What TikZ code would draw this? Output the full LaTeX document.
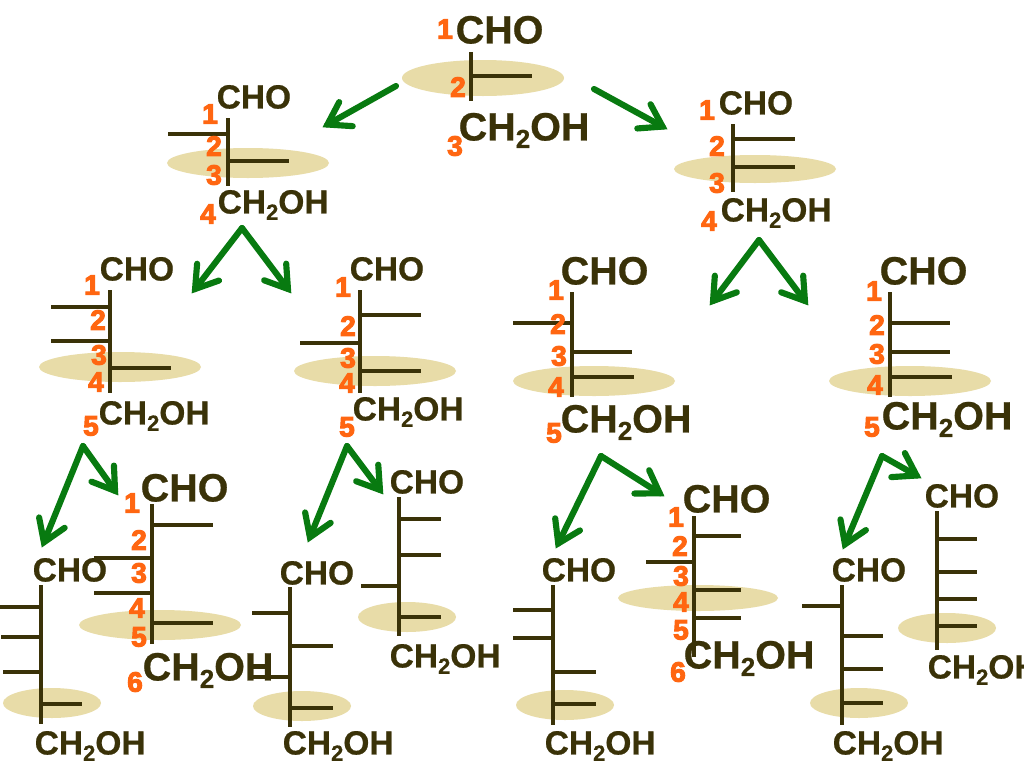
\documentclass[tikz,border=0pt]{standalone}
\usepackage{fontspec}
\setmainfont[BoldFeatures={FakeBold=0.6}]{Liberation Sans}
\newfontfamily\numfont[BoldFeatures={FakeBold=3.6}]{Liberation Sans}
\usetikzlibrary{calc}
\definecolor{olive}{HTML}{3A3208}
\definecolor{sand}{HTML}{E8DCA8}
\definecolor{numor}{HTML}{FF6611}
\definecolor{arrowgreen}{HTML}{087A10}
\tikzset{
  formula/.style={inner sep=0pt,anchor=base west,text=olive,xshift=-0.4pt,yshift=0.4pt},
  bigf/.style={formula,font=\fontsize{29.6}{32}\selectfont\bfseries},
  smallf/.style={formula,font=\fontsize{25.1}{28}\selectfont\bfseries},
  numlabel/.style={inner sep=0pt,anchor=center,text=numor,font=\fontsize{21}{24}\selectfont\numfont\bfseries},
  bond/.style={draw=olive,line width=3.2pt},
  halo/.style={fill=sand,draw=none},
  flow/.style={draw=arrowgreen,line width=4.6pt,line cap=round,line join=miter,miter limit=10}
}
\newcommand{\chotwo}{CH\raisebox{-.19em}{\scalebox{.66}{2}}OH}
\newcommand{\halobox}[5]{\fill[halo] (#2,#3) ellipse [x radius=#4,y radius=#5];}
\newcommand{\stem}[3]{\draw[bond] (#1,#2) -- (#1,#3);}
\newcommand{\arm}[3]{\draw[bond] (#1,#3) -- (#2,#3);}
\newcommand{\nm}[4]{\node[numlabel] (#1) at (#2,#3) {#4};}
\newcommand{\flowarrow}[2]{%
  \coordinate (tipc) at ($(#2)!3.8pt!(#1)$);
  \draw[flow] (#1) -- (tipc);
  \draw[flow] ($(tipc)!19pt!33:(#1)$) -- (tipc) -- ($(tipc)!19pt!-33:(#1)$);}
\begin{document}
\begin{tikzpicture}[x=0.75pt,y=-0.75pt]
\useasboundingbox (0,0) rectangle (1024,768);
\fill[white] (0,0) rectangle (1024,768);
% halos
\halobox{}{483}{78}{81}{18}
\halobox{}{248}{163}{81}{15}
\halobox{}{755}{169}{81}{14}
\halobox{}{120}{367}{81}{15}
\halobox{}{375}{371}{81}{15}
\halobox{}{594}{381}{81}{15}
\halobox{}{910}{381}{81}{15}
\halobox{}{52}{703}{49}{15}
\halobox{}{160}{625}{81}{15}
\halobox{}{302}{706}{49}{15}
\halobox{}{407}{617}{49}{15}
\halobox{}{565}{705}{49}{15}
\halobox{}{698}{598}{80}{13}
\halobox{}{859}{703}{49}{15}
\halobox{}{947}{628}{49}{15}
% formula texts
\node[bigf] (aC) at (456,44) {CHO};
\node[bigf] (aE) at (459,141) {\chotwo};
\node[smallf] (bC) at (217,109) {CHO};
\node[smallf] (bE) at (218,214) {\chotwo};
\node[smallf] (cC) at (719,115) {CHO};
\node[smallf] (cE) at (721,222) {\chotwo};
\node[smallf] (dC) at (100,281) {CHO};
\node[smallf] (dE) at (99,425) {\chotwo};
\node[smallf] (eC) at (350,281) {CHO};
\node[smallf] (eE) at (353,421) {\chotwo};
\node[bigf] (fC) at (561,285) {CHO};
\node[bigf] (fE) at (561,433) {\chotwo};
\node[bigf] (gC) at (880,285) {CHO};
\node[bigf] (gE) at (882,430) {\chotwo};
\node[smallf] (hC) at (33,582) {CHO};
\node[smallf] (hE) at (35,755) {\chotwo};
\node[bigf] (iC) at (141,502) {CHO};
\node[bigf] (iE) at (143,681) {\chotwo};
\node[smallf] (jC) at (280,585) {CHO};
\node[smallf] (jE) at (283,755) {\chotwo};
\node[smallf] (kC) at (390,494) {CHO};
\node[smallf] (kE) at (390,668) {\chotwo};
\node[smallf] (lC) at (542,582) {CHO};
\node[smallf] (lE) at (545,755) {\chotwo};
\node[bigf] (mC) at (683,513) {CHO};
\node[bigf] (mE) at (684,669) {\chotwo};
\node[smallf] (nC) at (832,582) {CHO};
\node[smallf] (nE) at (833,755) {\chotwo};
\node[smallf] (oC) at (925,508) {CHO};
\node[smallf] (oE) at (928,679) {\chotwo};
% bonds
\stem{471}{52}{101} \arm{471}{532}{76}
\stem{228}{118}{186} \arm{168}{228}{134} \arm{228}{289}{161}
\stem{733}{124}{192} \arm{733}{795}{139} \arm{733}{795}{167}
\stem{110}{290}{393} \arm{51}{110}{307} \arm{51}{110}{341} \arm{110}{171}{368}
\stem{360}{290}{393} \arm{360}{421}{315} \arm{300}{360}{343} \arm{360}{421}{371}
\stem{572}{292}{397} \arm{513}{572}{323} \arm{572}{632}{352} \arm{572}{634}{377}
\stem{890}{292}{397} \arm{890}{950}{323} \arm{890}{950}{352} \arm{890}{952}{377}
\stem{41}{585}{724} \arm{0}{41}{607} \arm{1}{41}{637} \arm{3}{41}{672} \arm{41}{82}{704}
\stem{152}{504}{644} \arm{152}{213}{525} \arm{94}{152}{558} \arm{94}{152}{593} \arm{152}{213}{623}
\stem{290}{587}{727} \arm{252}{290}{613} \arm{290}{333}{646} \arm{252}{290}{677} \arm{290}{333}{708}
\stem{399}{497}{636} \arm{399}{441}{519} \arm{399}{441}{555} \arm{361}{399}{586} \arm{399}{441}{617}
\stem{553}{585}{725} \arm{513}{553}{610} \arm{513}{553}{638} \arm{553}{596}{672} \arm{553}{596}{704}
\stem{694}{516}{657} \arm{694}{741}{536} \arm{646}{694}{562} \arm{694}{741}{590} \arm{694}{741}{618}
\stem{842}{585}{725} \arm{802}{842}{606} \arm{842}{883}{636} \arm{842}{883}{669} \arm{842}{883}{703}
\stem{937}{511}{650} \arm{937}{977}{539} \arm{937}{977}{572} \arm{937}{977}{599} \arm{937}{977}{626}
% numbers
\nm{a1}{445}{29}{1} \nm{a2}{458}{87}{2} \nm{a3}{455}{146}{3}
\nm{b1}{210}{114}{1} \nm{b2}{214}{146}{2} \nm{b3}{214}{175}{3} \nm{b4}{208}{214}{4}
\nm{c1}{707}{110}{1} \nm{c2}{717}{146}{2} \nm{c3}{717}{183}{3} \nm{c4}{709}{221}{4}
\nm{d1}{92}{285}{1} \nm{d2}{98}{320}{2} \nm{d3}{99}{355}{3} \nm{d4}{96}{382}{4} \nm{d5}{91}{426}{5}
\nm{e1}{343}{287}{1} \nm{e2}{348}{326}{2} \nm{e3}{348}{358}{3} \nm{e4}{347}{383}{4} \nm{e5}{347}{427}{5}
\nm{f1}{556}{290}{1} \nm{f2}{558}{324}{2} \nm{f3}{559}{356}{3} \nm{f4}{556}{387}{4} \nm{f5}{554}{433}{5}
\nm{g1}{874}{291}{1} \nm{g2}{877}{325}{2} \nm{g3}{877}{354}{3} \nm{g4}{875}{385}{4} \nm{g5}{872}{427}{5}
\nm{i1}{132}{503}{1} \nm{i2}{139}{540}{2} \nm{i3}{139}{573}{3} \nm{i4}{137}{608}{4} \nm{i5}{139}{637}{5} \nm{i6}{135}{682}{6}
\nm{m1}{676}{517}{1} \nm{m2}{680}{546}{2} \nm{m3}{681}{576}{3} \nm{m4}{681}{602}{4} \nm{m5}{681}{630}{5} \nm{m6}{678}{672}{6}
% arrows
\coordinate (s1) at (396,86);  \coordinate (t1) at (323,127);
\coordinate (s2) at (594,89);  \coordinate (t2) at (667,129);
\coordinate (s3) at (242,228); \coordinate (t3a) at (192,293); \coordinate (t3b) at (291,293);
\coordinate (s4) at (759,240); \coordinate (t4a) at (710,305); \coordinate (t4b) at (808,305);
\coordinate (s5) at (83,446);  \coordinate (t5a) at (42,547); \coordinate (t5b) at (118,495);
\coordinate (s6) at (347,446); \coordinate (t6a) at (308,542); \coordinate (t6b) at (383,494);
\coordinate (s7) at (601,456); \coordinate (t7a) at (556,548); \coordinate (t7b) at (664,496);
\coordinate (s8) at (882,456); \coordinate (t8a) at (843,549); \coordinate (t8b) at (921,478);
\flowarrow{s1}{t1}
\flowarrow{s2}{t2}
\flowarrow{s3}{t3a} \flowarrow{s3}{t3b}
\flowarrow{s4}{t4a} \flowarrow{s4}{t4b}
\flowarrow{s5}{t5a} \flowarrow{s5}{t5b}
\flowarrow{s6}{t6a} \flowarrow{s6}{t6b}
\flowarrow{s7}{t7a} \flowarrow{s7}{t7b}
\flowarrow{s8}{t8a} \flowarrow{s8}{t8b}
\end{tikzpicture}
\end{document}
